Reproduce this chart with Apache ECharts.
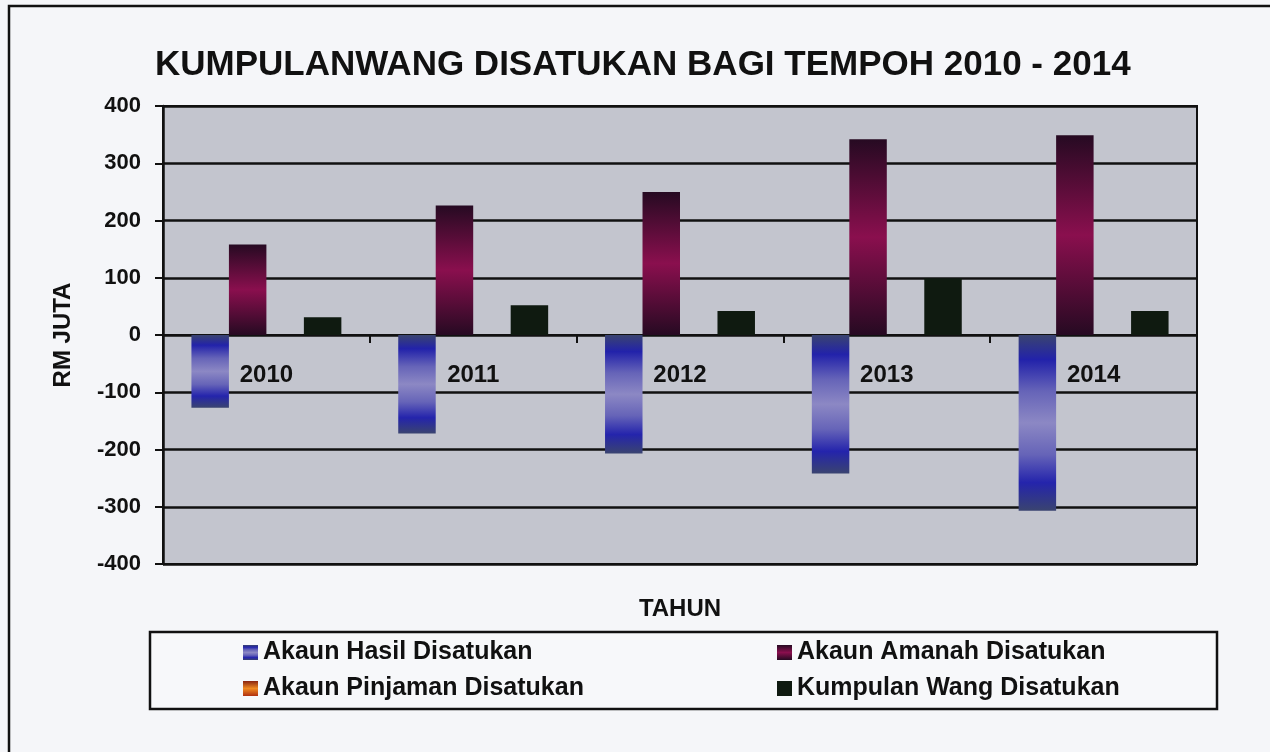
<!DOCTYPE html>
<html>
<head>
<meta charset="utf-8">
<script src="https://cdn.jsdelivr.net/npm/echarts@6/dist/echarts.min.js"></script>
<style>
html,body{margin:0;padding:0;background:#f5f6f9;}
#c{width:1270px;height:752px;}
</style>
</head>
<body>
<div id="c"></div>
<script>
const years = ['2010', '2011', '2012', '2013', '2014'];
const seriesNames = ['Akaun Hasil Disatukan', 'Akaun Amanah Disatukan', 'Akaun Pinjaman Disatukan', 'Kumpulan Wang Disatukan'];
const hasil = [-127, -172, -207, -242, -307];
const amanah = [158, 226, 250, 342, 349];
const pinjaman = [0, 0, 0, 0, 0];
const kumpulan = [31, 52, 42, 99, 42];
const titleText = 'KUMPULANWANG DISATUKAN BAGI TEMPOH 2010 - 2014';
const yName = 'RM JUTA';
const xName = 'TAHUN';

const FONT = '"Liberation Sans", Arial, sans-serif';
const chart = echarts.init(document.getElementById('c'));

function grad(stops) {
  return new echarts.graphic.LinearGradient(0, 0, 0, 1, stops.map((c) => ({offset: c[0], color: c[1]})));
}
const blueGrad = grad([[0, '#3a4470'], [0.14, '#2222aa'], [0.32, '#6664b8'], [0.5, '#8c88c4'], [0.68, '#6664b8'], [0.84, '#2424ac'], [1, '#3a4470']]);
const maroonGrad = grad([[0, '#260a22'], [0.5, '#8a0f4e'], [1, '#260a22']]);
const orangeGrad = grad([[0, '#8a2410'], [0.5, '#f08a20'], [1, '#b03010']]);
const greenCol = '#0f1a10';

const gridTop = 106, gridBottom = 188, chartH = 752;
const plotH = chartH - gridTop - gridBottom;
const yMin = -400, yMax = 400;
// place the category axis on the zero line of the value scale
const zeroOffset = -plotH * (0 - yMin) / (yMax - yMin);

const option = {
  backgroundColor: '#f5f6f9',
  animation: false,
  title: {
    text: titleText,
    left: 150,
    top: 43,
    textStyle: {fontFamily: FONT, fontSize: 35, fontWeight: 'bold', color: '#111'}
  },
  grid: {
    left: 163, right: 73, top: gridTop, bottom: gridBottom,
    show: true, backgroundColor: '#c3c5ce', borderColor: '#111', borderWidth: 2
  },
  legend: [
    {
      data: [seriesNames[0], seriesNames[2]],
      orient: 'vertical', left: 243, top: 640, padding: 0,
      itemWidth: 15, itemHeight: 15, itemGap: 11, icon: 'rect',
      textStyle: {fontFamily: FONT, fontSize: 25, fontWeight: 'bold', color: '#111'}
    },
    {
      data: [seriesNames[1], seriesNames[3]],
      orient: 'vertical', left: 777, top: 640, padding: 0,
      itemWidth: 15, itemHeight: 15, itemGap: 11, icon: 'rect',
      textStyle: {fontFamily: FONT, fontSize: 25, fontWeight: 'bold', color: '#111'}
    }
  ],
  xAxis: {
    type: 'category',
    data: years,
    position: 'bottom',
    offset: zeroOffset,
    axisLine: {onZero: false, lineStyle: {color: '#111', width: 2}},
    axisTick: {show: true, length: 8, lineStyle: {color: '#111', width: 2}},
    axisLabel: {margin: 28, fontFamily: FONT, fontSize: 24, fontWeight: 'bold', color: '#111'},
    splitLine: {show: false}
  },
  yAxis: {
    type: 'value',
    min: yMin, max: yMax, interval: 100,
    name: yName,
    nameLocation: 'middle',
    nameRotate: 90,
    nameGap: 88,
    nameTextStyle: {fontFamily: FONT, fontSize: 24, fontWeight: 'bold', color: '#111'},
    axisLine: {show: true, lineStyle: {color: '#111', width: 2.5}},
    axisTick: {show: true, length: 8, lineStyle: {color: '#111', width: 2}},
    axisLabel: {margin: 22, fontFamily: FONT, fontSize: 22, fontWeight: 'bold', color: '#111'},
    splitLine: {show: true, lineStyle: {color: '#111', width: 2.5}}
  },
  graphic: [
    {type: 'rect', z: 0, shape: {x: 9, y: 6, width: 1300, height: 800}, style: {fill: 'none', stroke: '#111', lineWidth: 2.5}},
    {type: 'rect', z: 0, shape: {x: 150, y: 632, width: 1067, height: 77}, style: {fill: '#f7f8fa', stroke: '#111', lineWidth: 2.5}},
    {type: 'text', z: 5, x: 680, y: 609, style: {text: xName, fontFamily: FONT, fontSize: 24, fontWeight: 'bold', fill: '#111', align: 'center', verticalAlign: 'middle'}}
  ],
  series: [
    {name: seriesNames[0], type: 'bar', data: hasil, barGap: '0%', barCategoryGap: '27.5%', itemStyle: {color: blueGrad}},
    {name: seriesNames[1], type: 'bar', data: amanah, itemStyle: {color: maroonGrad}},
    {name: seriesNames[2], type: 'bar', data: pinjaman, itemStyle: {color: orangeGrad}},
    {name: seriesNames[3], type: 'bar', data: kumpulan, itemStyle: {color: greenCol}}
  ]
};
chart.setOption(option);
</script>
</body>
</html>
